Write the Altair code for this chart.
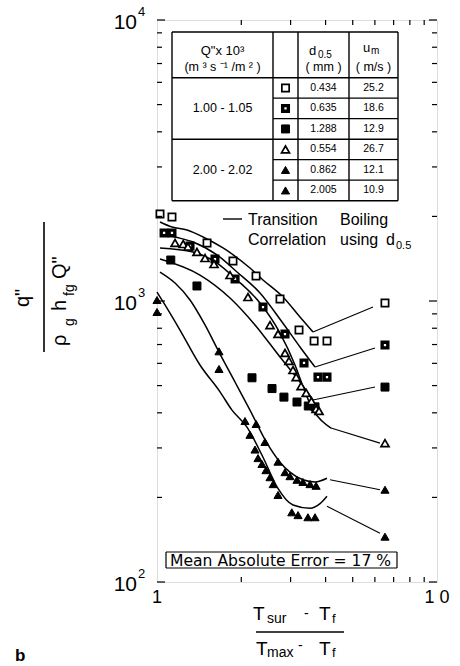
import altair as alt
import pandas as pd

W, H = 280, 562
FONT = "Liberation Sans"
WIDE = "DejaVu Sans"

# ---- series (median particle diameter, mm) ----
series = ["0.434", "0.635", "1.288", "0.554", "0.862", "2.005"]
q_ranges = ["1.00  -  1.05", "2.00  -  2.02"]
u_m = ["25.2", "18.6", "12.9", "26.7", "12.1", "10.9"]

# ---- measured heat flux ratio vs superheat ratio ----
meas_x = {
    "0.434": [1.025, 1.131, 1.509, 1.868, 2.258, 2.75, 3.215, 3.64, 4.047],
    "0.635": [1.06, 1.131, 1.312, 1.611, 1.90, 2.391, 2.865, 3.35, 3.758, 4.047],
    "1.288": [1.12, 1.389, 2.184, 2.575, 2.84, 3.162, 3.47, 3.667],
    "0.554": [1.16, 1.24, 1.29, 1.389, 1.484, 1.598, 1.823, 2.113, 2.533, 2.705,
              2.865, 2.96, 3.06, 3.14, 3.27, 3.41, 3.56, 3.70, 3.79],
    "0.862": [1.0, 1.665, 2.26, 2.43, 2.705, 2.865, 2.985, 3.162, 3.32, 3.52, 3.70],
    "2.005": [1.0, 1.665, 2.062, 2.148, 2.239, 2.295, 2.371, 2.45, 2.533, 2.60,
              2.705, 3.03, 3.19, 3.46, 3.667],
}
meas_y = {
    "0.434": [2040, 1990, 1609, 1388, 1227, 1016, 788, 721, 721],
    "0.635": [1746, 1746, 1570, 1410, 1198, 952, 763, 602, 536, 536],
    "1.288": [1399, 1131, 533, 488, 455, 437, 423, 420],
    "0.554": [1609, 1595, 1560, 1494, 1422, 1354, 1237, 1033, 821, 763,
              653, 612, 568, 536, 498, 471, 440, 413, 406],
    "0.862": [1008, 662, 365, 315, 268, 246, 238, 231, 227, 223, 220],
    "2.005": [914, 573, 374, 334, 296, 276, 263, 250, 236, 223,
              204, 177, 173, 170, 170],
}

# ---- transition boiling correlation curves ----
corr_x = {
    "0.434": [1.025, 1.131, 1.28, 1.46, 1.721, 2.148, 2.391, 2.818, 3.241, 3.607],
    "0.635": [1.025, 1.16, 1.345, 1.638, 1.931, 2.333, 2.796, 3.241, 3.667],
    "0.554": [1.025, 1.345, 1.638, 1.931, 2.333, 2.75, 3.111, 3.378, 3.607, 3.884, 4.182],
    "1.288": [1.025, 1.424, 1.823, 2.239, 2.75, 3.241, 3.607],
    "0.862": [1.025, 1.16, 1.312, 1.484, 1.665, 1.899, 2.148, 2.471, 2.75, 2.985,
              3.32, 3.667, 4.047],
    "2.005": [1.0, 1.068, 1.208, 1.424, 1.679, 1.853, 2.096, 2.391, 2.683, 3.06,
              3.52, 3.821, 4.047],
}
corr_y = {
    "0.434": [1911, 1834, 1789, 1690, 1544, 1310, 1188, 1033, 877, 776],
    "0.635": [1746, 1690, 1622, 1458, 1268, 1068, 842, 686, 582],
    "0.554": [1544, 1494, 1365, 1188, 984, 769, 592, 475, 409, 374, 353],
    "1.288": [1411, 1237, 1025, 822, 632, 515, 444],
    "0.862": [1268, 1159, 1008, 822, 658, 515, 409, 312, 267, 246, 231, 227, 234],
    "2.005": [1076, 968, 788, 592, 475, 409, 356, 278, 218, 188, 183, 190, 202],
}

# ---- curve labels at the right ----
lead_x0 = [3.607, 3.667, 3.607, 4.182, 4.148, 4.047]
lead_y0 = [776, 582, 444, 353, 231, 186]
lead_x1 = [5.907, 6.006, 6.006, 6.258, 6.258, 6.258]
lead_y1 = [952, 680, 494, 312, 213, 149]
tag_x = [6.52, 6.52, 6.52, 6.52, 6.52, 6.52]
tag_y = [984, 697, 494, 312, 213, 145]

# marker style per series: shape, fill, stroke width, size
style = {
    "0.434": ("square", "white", 1.7, 53),
    "0.635": ("square", "white", 3.4, 32),
    "1.288": ("square", "black", 1.0, 64),
    "0.554": ("triangle-up", "white", 1.7, 64),
    "0.862": ("triangle-up", "black", 1.0, 66),
    "2.005": ("triangle-up", "black", 1.0, 66),
}

xs = alt.Scale(type="log", domain=[1, 10])
ys = alt.Scale(type="log", domain=[100, 10000])
X = lambda f="x": alt.X(f"{f}:Q", scale=xs, axis=None)
Y = lambda f="y": alt.Y(f"{f}:Q", scale=ys, axis=None)

layers = []

# correlation curves
for s in series:
    df = pd.DataFrame({"x": corr_x[s], "y": corr_y[s]})
    layers.append(alt.Chart(df).mark_line(color="black", strokeWidth=1.5,
                                          interpolate="monotone")
                  .encode(x=X(), y=Y()))

# leader lines
lead = pd.DataFrame({"x": lead_x0, "y": lead_y0, "x2": lead_x1, "y2": lead_y1})
layers.append(alt.Chart(lead).mark_rule(color="black", strokeWidth=1.1)
              .encode(x=X(), y=Y(), x2="x2:Q", y2="y2:Q"))


def marker_mark(s):
    shape, fill, sw, size = style[s]
    return dict(shape=shape, filled=True, fill=fill, stroke="black",
                strokeWidth=sw, size=size, opacity=1, fillOpacity=1)


# measured points and right-hand tags
for i, s in enumerate(series):
    df = pd.DataFrame({"x": meas_x[s], "y": meas_y[s]})
    layers.append(alt.Chart(df).mark_point(**marker_mark(s)).encode(x=X(), y=Y()))
    tag = pd.DataFrame({"x": [tag_x[i]], "y": [tag_y[i]]})
    layers.append(alt.Chart(tag).mark_point(**marker_mark(s)).encode(x=X(), y=Y()))

# ---- inward ticks on all four sides ----
y_major = [100, 1000, 10000]
y_minor = [m * d for d in (100, 1000) for m in range(2, 10)]
x_minor = list(range(2, 10))
for vals, ln in ((y_major, 8), (y_minor, 5)):
    d = pd.DataFrame({"y": vals})
    layers.append(alt.Chart(d).mark_rule(color="black", strokeWidth=1.2)
                  .encode(y=Y(), x=alt.value(0), x2=alt.value(ln)))
    layers.append(alt.Chart(d).mark_rule(color="black", strokeWidth=1.2)
                  .encode(y=Y(), x=alt.value(W), x2=alt.value(W - ln)))
dxm = pd.DataFrame({"x": x_minor})
layers.append(alt.Chart(dxm).mark_rule(color="black", strokeWidth=1.2)
              .encode(x=X(), y=alt.value(0), y2=alt.value(5)))
layers.append(alt.Chart(dxm).mark_rule(color="black", strokeWidth=1.2)
              .encode(x=X(), y=alt.value(H), y2=alt.value(H - 5)))


def txt(t, x, y, size=14, align="left", baseline="alphabetic", angle=0,
        weight="normal", font=FONT):
    return (alt.Chart(pd.DataFrame({"t": [t]}))
            .mark_text(text=t, font=font, fontSize=size, align=align,
                       baseline=baseline, angle=angle, fontWeight=weight,
                       color="black")
            .encode(x=alt.value(x), y=alt.value(y)))


def seg(x1, y1, x2, y2, w=1.2):
    return (alt.Chart(pd.DataFrame({"a": [0]}))
            .mark_rule(color="black", strokeWidth=w)
            .encode(x=alt.value(x1), y=alt.value(y1),
                    x2=alt.value(x2), y2=alt.value(y2)))


# ---- y tick labels 10^2 .. 10^4 ----
ylab = pd.DataFrame({"y": y_major, "b": ["10"] * 3, "e": ["2", "3", "4"]})
layers.append(alt.Chart(ylab).mark_text(font=FONT, fontSize=21, align="right",
                                        baseline="middle", dx=-20, dy=3)
              .encode(y=Y(), x=alt.value(0), text="b:N"))
layers.append(alt.Chart(ylab).mark_text(font=FONT, fontSize=13, align="left",
                                        baseline="middle", dx=-19, dy=-8)
              .encode(y=Y(), x=alt.value(0), text="e:N"))

# ---- x tick labels ----
xlab = pd.DataFrame({"x": [1, 10], "t": ["1", "1 0"]})
layers.append(alt.Chart(xlab).mark_text(font=FONT, fontSize=18, align="center",
                                        baseline="alphabetic")
              .encode(x=X(), y=alt.value(H + 21), text="t:N"))

# ---- x title: (T_sur - T_f) / (T_max - T_f) ----
ox, oy = 157, 20
layers += [
    txt("T", 253 - ox, 620 - oy, 19),
    txt("sur", 267 - ox, 623 - oy, 14),
    txt("-", 304 - ox, 618 - oy, 14),
    txt("T", 319 - ox, 620 - oy, 19),
    txt("f", 332 - ox, 623 - oy, 13),
    seg(256 - ox, 632 - oy, 344 - ox, 632 - oy, 1.6),
    txt("T", 256 - ox, 655 - oy, 19),
    txt("max", 267 - ox, 657 - oy, 14),
    txt("-", 298 - ox, 650 - oy, 14),
    txt("T", 319 - ox, 655 - oy, 19),
    txt("f", 332 - ox, 657 - oy, 13),
]

# ---- y title: q'' / (rho_g h_fg Q'') ----
layers += [
    txt("q\"", 29 - ox, 298 - oy, 20, align="center", angle=270),
    seg(44 - ox, 222 - oy, 44 - ox, 352 - oy, 1.6),
    txt("ρ", 66 - ox, 346 - oy, 20, angle=270),
    txt("g", 74 - ox, 326 - oy, 14, angle=270),
    txt("h", 66 - ox, 311 - oy, 20, angle=270),
    txt("fg", 74 - ox, 296 - oy, 14, angle=270),
    txt("Q\"", 66 - ox, 279 - oy, 20, angle=270),
]

# ---- panel letter ----
layers.append(txt("b", 15 - ox, 661 - oy, 17, weight="bold"))

# ---- table ----
TX = [15, 116, 141, 192, 241]
T_TOP, T_HEAD, ROW = 12, 57.7, 20.5
row_edges = [T_HEAD + ROW * k for k in range(7)]
for k, yy in enumerate(row_edges):
    if k in (0, 3, 6):
        layers.append(seg(TX[0], yy, TX[-1], yy, 1.4))
    else:
        layers.append(seg(TX[1], yy, TX[-1], yy, 1.2))
layers.append(seg(TX[0], T_TOP, TX[-1], T_TOP, 1.4))
for xx in TX:
    layers.append(seg(xx, T_TOP, xx, row_edges[-1], 1.4))

# header
layers += [
    txt("Q\"x 10³", (TX[0] + TX[1]) / 2, 35, 13, align="center"),
    txt("(m ³ s ⁻¹ /m ² )", (TX[0] + TX[1]) / 2, 51, 12.5, align="center"),
    txt("d", 152, 35, 13),
    txt("0.5", 161, 38, 10),
    txt("( mm )", (TX[2] + TX[3]) / 2, 51, 12.5, align="center"),
    txt("u", 206, 32, 13),
    txt("m", 214, 34, 10),
    txt("( m/s )", (TX[3] + TX[4]) / 2, 51, 12.5, align="center"),
]
for g, q in enumerate(q_ranges):
    yc = row_edges[3 * g] + 1.5 * ROW
    layers.append(txt(q, (TX[0] + TX[1]) / 2, yc, 12.5, align="center",
                      baseline="middle"))
for i, s in enumerate(series):
    yc = row_edges[i] + ROW / 2
    layers.append(txt(s, (TX[2] + TX[3]) / 2, yc, 10.5, align="center",
                      baseline="middle"))
    layers.append(txt(u_m[i], (TX[3] + TX[4]) / 2, yc, 10.5, align="center",
                      baseline="middle"))
    layers.append(alt.Chart(pd.DataFrame({"a": [0]}))
                  .mark_point(**marker_mark(s))
                  .encode(x=alt.value((TX[1] + TX[2]) / 2), y=alt.value(yc)))

# ---- correlation legend ----
layers += [
    seg(66, 199, 85, 199, 1.4),
    txt("Transition", 91, 205, 16),
    txt("Boiling", 183, 205, 16),
    txt("Correlation", 91, 225, 16),
    txt("using", 183, 225, 16),
    txt("d", 229, 225, 16),
    txt("0.5", 239, 229, 11),
]

# ---- error box ----
layers += [
    seg(9, 532, 240, 532, 1.2), seg(9, 548, 240, 548, 1.2),
    seg(9, 532, 9, 548, 1.2), seg(240, 532, 240, 548, 1.2),
    txt("Mean Absolute Error = 17 %", 13, 545.5, 15.6, font=WIDE),
]

chart = (alt.layer(*layers)
         .properties(width=W, height=H, autosize="none",
                     padding={"left": 157, "top": 20, "right": 23, "bottom": 84})
         .configure_view(stroke="black", strokeWidth=2)
         .configure(background="white"))

chart.save("out.html", embed_options={"renderer": "svg", "actions": False})
